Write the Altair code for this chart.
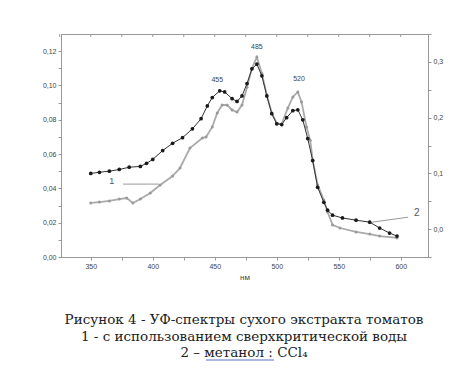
import altair as alt
import pandas as pd

# Series 1 (grey): supercritical water extraction, left axis
wl_1 = [350, 357, 365, 373, 379, 384, 390, 398, 406, 416, 422, 430, 440, 443, 448, 452, 456, 460, 464, 468,
        472, 476, 480, 484, 488, 492, 496, 500, 504, 509, 513, 517, 520, 524, 527, 529, 533, 538, 541, 545,
        551, 564, 575, 583, 597]
abs_1 = [0.0315, 0.032, 0.0327, 0.0338, 0.0344, 0.0315, 0.0338, 0.0373, 0.042, 0.0472, 0.0519, 0.0635, 0.0694,
         0.070, 0.0758, 0.084, 0.0886, 0.0886, 0.0857, 0.0845, 0.0886, 0.099, 0.110, 0.1166, 0.107, 0.0944,
         0.084, 0.078, 0.0775, 0.0869, 0.0933, 0.0962, 0.0904, 0.0758, 0.068, 0.0565, 0.042, 0.0332, 0.0262,
         0.0187, 0.0169, 0.0146, 0.0134, 0.0122, 0.0111]

# Series 2 (black dots): methanol : CCl4, right axis
wl_2 = [350, 357, 365, 373, 381, 390, 395, 400, 408, 416, 424, 432, 439, 444, 448, 454, 458, 464, 468, 472,
        476, 480, 484, 488, 492, 496, 500, 504, 508, 513, 517, 521, 525, 529, 533, 538, 541, 545, 553, 564,
        575, 583, 591, 597]
abs_2 = [0.100, 0.102, 0.104, 0.107, 0.111, 0.1125, 0.118, 0.125, 0.141, 0.154, 0.164, 0.180, 0.198, 0.221,
         0.236, 0.248, 0.246, 0.234, 0.229, 0.239, 0.261, 0.2875, 0.296, 0.275, 0.239, 0.207, 0.189, 0.1875,
         0.200, 0.2125, 0.214, 0.196, 0.1625, 0.123, 0.075, 0.048, 0.034, 0.025, 0.020, 0.016, 0.0125, 0.002,
         -0.007, -0.0125]

peak_labels = ["455", "485", "520"]
peak_wl = [452, 484, 518]
peak_y = [0.103, 0.1225, 0.104]

x_ticks = list(range(325, 625, 25))
left_ticks = [i / 100 for i in range(0, 13)]
right_ticks = [i / 100 for i in range(-5, 36, 5)]

captions = [
    "Рисунок 4 - УФ-спектры сухого экстракта томатов",
    "1 - с использованием сверхкритической воды",
    "2 – метанол : CCl₄",
]

FONT = "Liberation Sans"
L_MAX = 0.13
R_MIN, R_MAX = -0.05, 0.35
K = L_MAX / (R_MAX - R_MIN)  # right-axis units -> left-axis units
to_left = f"(datum.a - ({R_MIN})) * {K}"

xs = alt.Scale(domain=[326, 622], nice=False, zero=False)
ys = alt.Scale(domain=[0, L_MAX], nice=False, zero=False)

x_axis = alt.Axis(values=x_ticks, labelExpr="datum.value % 50 == 0 ? datum.label : ''",
                  title="нм", titleFontSize=8, titleFontWeight="normal", titleColor="#444",
                  titlePadding=4, labelFontSize=7, labelColor="#444", tickSize=3,
                  domainColor="#999", tickColor="#999", grid=False, labelFont=FONT, titleFont=FONT)
yl_axis = alt.Axis(values=left_ticks, orient="left", title=None, grid=False, tickSize=3, labelFontSize=7,
                   labelColor="#444", domainColor="#999", tickColor="#999", labelFont=FONT,
                   labelExpr="round(datum.value*100) % 2 == 0 ? replace(format(datum.value, '.2f'), '.', ',') : ''")
right_pos = [(r - R_MIN) * K for r in right_ticks]
r_expr = f"round((datum.value / {K} + ({R_MIN})) * 20) / 20"
yr_axis = alt.Axis(values=right_pos, orient="right", title=None, grid=False, tickSize=3, labelFontSize=7,
                   labelColor="#444", domainColor="#999", tickColor="#999", labelFont=FONT,
                   labelExpr=f"round({r_expr}*20) % 2 == 0 ? replace(format({r_expr}, '.1f'), '.', ',') : ''")

d1 = pd.DataFrame({"wl": wl_1, "a": abs_1})
d2 = pd.DataFrame({"wl": wl_2, "a": abs_2})
dp = pd.DataFrame({"wl": peak_wl, "a": peak_y, "t": peak_labels})

grey_line = alt.Chart(d1).mark_line(color="#aaaaaa", strokeWidth=1.8).encode(
    x=alt.X("wl:Q", scale=xs, axis=x_axis),
    y=alt.Y("a:Q", scale=ys, axis=yl_axis),
)
grey_pts = alt.Chart(d1).mark_circle(color="#9a9a9a", size=9, opacity=1).encode(
    x=alt.X("wl:Q", axis=None), y=alt.Y("a:Q", axis=None),
)
peaks = alt.Chart(dp).mark_text(fontSize=7, font=FONT, color="#444").encode(
    x=alt.X("wl:Q", axis=None), y=alt.Y("a:Q", axis=None), text="t:N",
)
lead1 = alt.Chart(pd.DataFrame({"x1": [376], "x2": [405], "y": [0.0425]})).mark_rule(
    color="#999", strokeWidth=1).encode(
    x=alt.X("x1:Q", axis=None), x2="x2:Q", y=alt.Y("y:Q", axis=None),
)
lab1 = alt.Chart(pd.DataFrame({"x": [367], "y": [0.0445], "t": ["1"]})).mark_text(
    fontSize=9, font=FONT, color="#555").encode(
    x=alt.X("x:Q", axis=None), y=alt.Y("y:Q", axis=None), text="t:N")

top_ticks = alt.Chart(pd.DataFrame({"wl": x_ticks})).mark_rule(color="#999", strokeWidth=1).encode(
    x=alt.X("wl:Q", axis=None), y=alt.value(0), y2=alt.value(3))

black_line = alt.Chart(d2).transform_calculate(al=to_left).mark_line(color="#333", strokeWidth=1).encode(
    x=alt.X("wl:Q", axis=None),
    y=alt.Y("al:Q", axis=yr_axis),
)
black_pts = alt.Chart(d2).transform_calculate(al=to_left).mark_circle(color="#1a1a1a", size=14, opacity=1).encode(
    x=alt.X("wl:Q", axis=None), y=alt.Y("al:Q", axis=None),
)
lead2 = alt.Chart(pd.DataFrame({"x1": [577], "x2": [606], "a": [0.0125], "b": [0.0214]})).transform_calculate(
    y1=to_left, y2=f"(datum.b - ({R_MIN})) * {K}").mark_rule(color="#999", strokeWidth=1).encode(
    x=alt.X("x1:Q", axis=None), x2="x2:Q", y=alt.Y("y1:Q", axis=None), y2="y2:Q",
)
lab2 = alt.Chart(pd.DataFrame({"x": [613], "a": [0.029], "t": ["2"]})).transform_calculate(
    al=to_left).mark_text(fontSize=10, font=FONT, color="#555").encode(
    x=alt.X("x:Q", axis=None), y=alt.Y("al:Q", axis=None), text="t:N")

cap_layers = []
for c, yy in zip(captions, [286, 303, 319]):
    cap_layers.append(
        alt.Chart(pd.DataFrame({"t": [c]})).mark_text(
            font="DejaVu Serif", fontSize=13.5, color="#222", align="center", baseline="middle"
        ).encode(x=alt.value(183), y=alt.value(yy), text="t:N")
    )
underline = alt.Chart(pd.DataFrame({"k": [0]})).mark_rule(color="#5a6fc0", strokeWidth=1).encode(
    x=alt.value(145), x2=alt.value(213), y=alt.value(326))

chart = alt.layer(grey_line, grey_pts, peaks, lead1, lab1, top_ticks, black_line, black_pts, lead2, lab2,
                  *cap_layers, underline).resolve_axis(x="independent", y="independent").properties(
    width=367, height=223,
    autosize=alt.AutoSizeParams(type="none"),
    padding={"left": 53, "top": 26, "right": 23, "bottom": 113},
).configure_view(stroke="#999", strokeWidth=1)

chart.save("out.html", embed_options={"renderer": "svg", "actions": False})
